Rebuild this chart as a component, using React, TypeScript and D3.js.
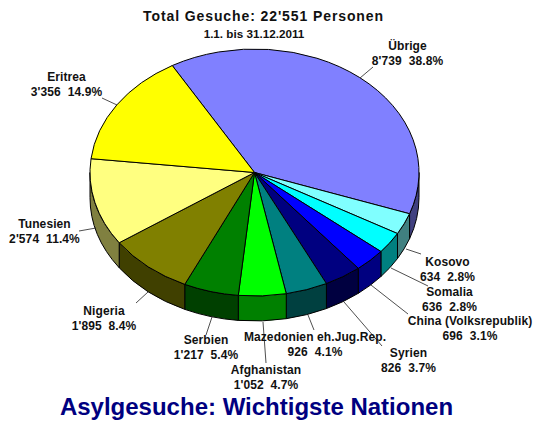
import React from "react";
import * as d3 from "d3";

const categories = ["Übrige","Kosovo","Somalia","China (Volksrepublik)","Syrien","Mazedonien eh.Jug.Rep.","Afghanistan","Serbien","Nigeria","Tunesien","Eritrea"];
const values = [8739,634,636,696,826,926,1052,1217,1895,2574,3356];
const valueLabels = ["8'739  38.8%","634  2.8%","636  2.8%","696  3.1%","826  3.7%","926  4.1%","1'052  4.7%","1'217  5.4%","1'895  8.4%","2'574  11.4%","3'356  14.9%"];
const topColors = ["#8080ff","#80ffff","#00ffff","#0000ff","#000080","#008080","#00ff00","#008000","#808000","#ffff80","#ffff00"];
const sideColors = ["#404080","#408080","#008080","#000080","#000040","#004040","#008000","#004000","#404000","#808040","#808000"];

const W = 534, H = 421;
const cx = 254.5, cy = 172.5, rx = 164.5, ry = 123.5, depth = 25;

// label anchor (centre x, first-line baseline y) and leader end points
const labelAt: [number, number][] = [[407.5,50],[447.5,265.5],[449.5,296],[470,325],[408.5,357],[315,341],[266,374],[206,344],[104,315],[44.5,228],[66.5,81]];
const leaders: [number, number, number, number][] = [[360,78,373,67],[406,249,421,254],[391,268,428,286],[371,285,408,314],[344,302,382,346],[308,315,314,330],[263,322,266,363],[212,317,206,335],[148,292,136,303],[96,228,79,231],[117,105,102,98]];

const pie = d3.pie<number>().sort(null).startAngle(-Math.PI / 6).endAngle(2 * Math.PI - Math.PI / 6);
const arcs = pie(values);
const px = d3.scaleLinear().domain([-1, 1]).range([cx - rx, cx + rx]);
const py = d3.scaleLinear().domain([-1, 1]).range([cy - ry, cy + ry]);
const ptX = (a: number) => px(Math.sin(a));
const ptY = (a: number) => py(-Math.cos(a));

function topPath(a0: number, a1: number) {
  const large = a1 - a0 > Math.PI ? 1 : 0;
  return `M${cx},${cy}L${ptX(a0)},${ptY(a0)}A${rx},${ry} 0 ${large} 1 ${ptX(a1)},${ptY(a1)}Z`;
}
function sidePath(a0: number, a1: number) {
  const s = Math.max(a0, Math.PI / 2), e = Math.min(a1, 3 * Math.PI / 2);
  if (e <= s) return null;
  return `M${ptX(s)},${ptY(s)}A${rx},${ry} 0 0 1 ${ptX(e)},${ptY(e)}L${ptX(e)},${ptY(e) + depth}A${rx},${ry} 0 0 0 ${ptX(s)},${ptY(s) + depth}Z`;
}

const font = "'Liberation Sans', Arial, sans-serif";

export default function App() {
  return (
    <svg width={W} height={H} style={{ position: "absolute", left: 0, top: 0, background: "#fff" }} fontFamily={font} fontWeight="bold">
      <g stroke="#000" strokeWidth={1}>
        {arcs.map((d, i) => {
          const p = sidePath(d.startAngle, d.endAngle);
          return p ? <path key={i} d={p} fill={sideColors[i]} /> : null;
        })}
        {arcs.map((d, i) => <path key={i} d={topPath(d.startAngle, d.endAngle)} fill={topColors[i]} />)}
      </g>
      <g stroke="#222" strokeWidth={0.8}>
        {leaders.map((l, i) => <line key={i} x1={l[0]} y1={l[1]} x2={l[2]} y2={l[3]} />)}
      </g>
      <text x={263.5} y={21} textAnchor="middle" fontSize={14} letterSpacing={0.9} fill="#111">Total Gesuche: 22'551 Personen</text>
      <text x={254} y={38} textAnchor="middle" fontSize={11.7} fill="#111">1.1. bis 31.12.2011</text>
      <g fontSize={12} textAnchor="middle" fill="#111" letterSpacing={0.1}>
        {categories.map((c, i) => (
          <text key={c} x={labelAt[i][0]} y={labelAt[i][1]} style={{ whiteSpace: "pre" }}>
            <tspan x={labelAt[i][0]}>{c}</tspan>
            <tspan x={labelAt[i][0]} dy={15}>{valueLabels[i]}</tspan>
          </text>
        ))}
      </g>
      <text x={256.5} y={415} textAnchor="middle" fontSize={24} fill="#000080">Asylgesuche: Wichtigste Nationen</text>
    </svg>
  );
}
